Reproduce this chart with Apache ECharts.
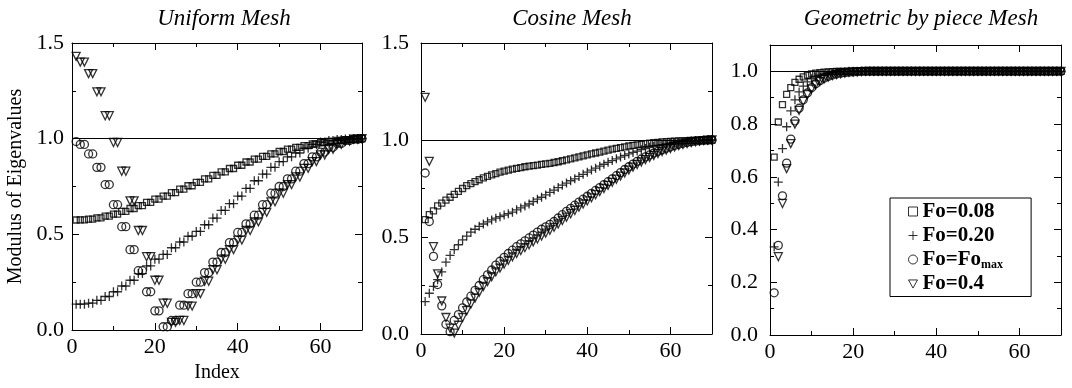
<!DOCTYPE html>
<html><head><meta charset="utf-8">
<script src="https://cdn.jsdelivr.net/npm/echarts@6/dist/echarts.min.js"></script>
<style>html,body{margin:0;padding:0;background:#fff}#c{width:1072px;height:388px}</style>
</head><body><div id="c"></div>
<script>
// ---------- DATA ----------
const panelTitles = ['Uniform Mesh', 'Cosine Mesh', 'Geometric by piece Mesh'];
const seriesNames = ['Fo=0.08', 'Fo=0.20', 'Fo=Fo_max', 'Fo=0.4'];
const xLabelTicks = [0, 20, 40, 60];
const xMinorTicks = [10, 30, 50];
const yTicksUC = [0, 0.5, 1.0, 1.5];
const yMinorUC = [0.25, 0.75, 1.25];
const yTicksGeo = [0, 0.2, 0.4, 0.6, 0.8, 1.0];
const yMinorGeo = [0.1, 0.3, 0.5, 0.7, 0.9];

// Uniform mesh (index 1..70)
const uniSq = [0.575, 0.576,0.576, 0.58,0.58, 0.586,0.586, 0.595,0.595, 0.606,0.606, 0.62,0.62, 0.635,0.635, 0.65,0.65, 0.667,0.667, 0.684,0.684, 0.70,0.70, 0.718,0.718, 0.736,0.736, 0.754,0.754, 0.772,0.772, 0.79,0.79, 0.808,0.808, 0.826,0.826, 0.844,0.844, 0.861,0.861, 0.878,0.878, 0.893,0.893, 0.907,0.907, 0.92,0.92, 0.933,0.933, 0.945,0.945, 0.955,0.955, 0.964,0.964, 0.972,0.972, 0.98,0.98, 0.986,0.986, 0.991,0.991, 0.995,0.995, 0.998,0.998, 1.0];
const uniPlus = [0.135, 0.135,0.135, 0.14,0.14, 0.155,0.155, 0.175,0.175, 0.20,0.20, 0.23,0.23, 0.26,0.26, 0.295,0.295, 0.335,0.335, 0.37,0.37, 0.395,0.395, 0.43,0.43, 0.46,0.46, 0.49,0.49, 0.515,0.515, 0.55,0.55, 0.585,0.585, 0.625,0.625, 0.66,0.66, 0.70,0.70, 0.74,0.74, 0.78,0.78, 0.815,0.815, 0.85,0.85, 0.88,0.88, 0.905,0.905, 0.925,0.925, 0.95,0.95, 0.97,0.97, 0.982,0.982, 0.99,0.99, 0.995,0.995, 0.998,0.998, 1.0,1.0, 1.0];
const uniCirc = [0.985, 0.97,0.97, 0.92,0.92, 0.85,0.85, 0.76,0.76, 0.655,0.655, 0.54,0.54, 0.42,0.42, 0.31,0.31, 0.20,0.20, 0.10,0.10, 0.017,0.017, 0.05,0.05, 0.13,0.13, 0.19,0.19, 0.25,0.25, 0.30,0.30, 0.355,0.355, 0.405,0.405, 0.457,0.457, 0.51,0.51, 0.555,0.555, 0.60,0.60, 0.655,0.655, 0.715,0.715, 0.75,0.75, 0.79,0.79, 0.83,0.83, 0.87,0.87, 0.905,0.905, 0.93,0.93, 0.955,0.955, 0.975,0.975, 0.99,0.99, 0.997,0.997, 1.0];
const uniTri = [1.43, 1.40,1.40, 1.34,1.34, 1.245,1.245, 1.12,1.12, 0.98,0.98, 0.83,0.83, 0.675,0.675, 0.52,0.52, 0.383,0.383, 0.26,0.26, 0.14,0.14, 0.04,0.04, 0.05,0.05, 0.125,0.125, 0.19,0.19, 0.255,0.255, 0.315,0.315, 0.37,0.37, 0.42,0.42, 0.47,0.47, 0.52,0.52, 0.565,0.565, 0.615,0.615, 0.67,0.67, 0.715,0.715, 0.76,0.76, 0.80,0.80, 0.845,0.845, 0.88,0.88, 0.915,0.915, 0.945,0.945, 0.97,0.97, 0.988,0.988, 0.997,0.997, 1.0];

// Cosine mesh (index 1..70)
const cosSq = [0.59, 0.615, 0.635, 0.66, 0.675, 0.69, 0.705, 0.72, 0.735, 0.75, 0.765, 0.775, 0.785, 0.795, 0.805, 0.813, 0.82, 0.827, 0.834, 0.84, 0.845, 0.85, 0.854, 0.858, 0.862, 0.865, 0.868, 0.871, 0.874, 0.877, 0.88, 0.884, 0.888, 0.893, 0.898, 0.903, 0.908, 0.913, 0.918, 0.923, 0.928, 0.933, 0.938, 0.943, 0.948, 0.953, 0.957, 0.961, 0.965, 0.969, 0.972, 0.975, 0.978, 0.981, 0.984, 0.986, 0.988, 0.99, 0.992, 0.993, 0.994, 0.995, 0.996, 0.997, 0.998, 0.998, 0.999, 0.999, 1.0, 1.0];
const cosPlus = [0.167, 0.21, 0.245, 0.28, 0.32, 0.37, 0.405, 0.435, 0.46, 0.485, 0.505, 0.525, 0.54, 0.555, 0.567, 0.578, 0.588, 0.597, 0.605, 0.613, 0.62, 0.628, 0.64, 0.65, 0.66, 0.67, 0.683, 0.695, 0.705, 0.717, 0.73, 0.742, 0.755, 0.767, 0.778, 0.79, 0.80, 0.812, 0.823, 0.834, 0.845, 0.855, 0.865, 0.875, 0.885, 0.894, 0.903, 0.912, 0.92, 0.928, 0.936, 0.943, 0.95, 0.956, 0.962, 0.967, 0.972, 0.976, 0.98, 0.984, 0.987, 0.99, 0.992, 0.994, 0.996, 0.997, 0.998, 0.999, 1.0, 1.0];
const cosCirc = [0.83, 0.58, 0.40, 0.255, 0.145, 0.05, 0.012, 0.07, 0.10, 0.135, 0.165, 0.195, 0.225, 0.25, 0.28, 0.305, 0.33, 0.355, 0.375, 0.395, 0.415, 0.432, 0.45, 0.465, 0.48, 0.495, 0.51, 0.525, 0.54, 0.552, 0.565, 0.58, 0.598, 0.615, 0.632, 0.648, 0.664, 0.68, 0.695, 0.71, 0.725, 0.74, 0.755, 0.77, 0.785, 0.80, 0.816, 0.832, 0.848, 0.862, 0.876, 0.89, 0.902, 0.913, 0.923, 0.933, 0.942, 0.95, 0.958, 0.965, 0.972, 0.978, 0.983, 0.987, 0.991, 0.994, 0.996, 0.998, 0.999, 1.0];
const cosTri = [1.22, 0.89, 0.45, 0.31, 0.17, 0.085, 0.03, 0.005, 0.045, 0.085, 0.12, 0.155, 0.185, 0.215, 0.245, 0.27, 0.295, 0.32, 0.34, 0.36, 0.38, 0.398, 0.415, 0.43, 0.445, 0.46, 0.475, 0.49, 0.505, 0.52, 0.535, 0.55, 0.567, 0.585, 0.602, 0.62, 0.637, 0.654, 0.67, 0.686, 0.702, 0.718, 0.734, 0.75, 0.766, 0.782, 0.798, 0.814, 0.83, 0.845, 0.86, 0.874, 0.887, 0.899, 0.91, 0.92, 0.93, 0.94, 0.948, 0.956, 0.964, 0.971, 0.977, 0.982, 0.987, 0.991, 0.994, 0.997, 0.999, 1.0];

// Geometric by piece mesh (index 1..70)
const geoSq = [0.675, 0.808, 0.874, 0.913, 0.938, 0.958, 0.97, 0.979, 0.985, 0.99, 0.993, 0.995, 0.997, 0.998, 0.999, 1.0, 1.0, 1.0, 1.0, 1.0, 1.0, 1.0, 1.0, 1.0, 1.0, 1.0, 1.0, 1.0, 1.0, 1.0, 1.0, 1.0, 1.0, 1.0, 1.0, 1.0, 1.0, 1.0, 1.0, 1.0, 1.0, 1.0, 1.0, 1.0, 1.0, 1.0, 1.0, 1.0, 1.0, 1.0, 1.0, 1.0, 1.0, 1.0, 1.0, 1.0, 1.0, 1.0, 1.0, 1.0, 1.0, 1.0, 1.0, 1.0, 1.0, 1.0, 1.0, 1.0, 1.0, 1.0];
const geoPlus = [0.334, 0.58, 0.707, 0.79, 0.85, 0.892, 0.922, 0.944, 0.96, 0.972, 0.98, 0.986, 0.99, 0.993, 0.995, 0.997, 0.998, 0.999, 1.0, 1.0, 1.0, 1.0, 1.0, 1.0, 1.0, 1.0, 1.0, 1.0, 1.0, 1.0, 1.0, 1.0, 1.0, 1.0, 1.0, 1.0, 1.0, 1.0, 1.0, 1.0, 1.0, 1.0, 1.0, 1.0, 1.0, 1.0, 1.0, 1.0, 1.0, 1.0, 1.0, 1.0, 1.0, 1.0, 1.0, 1.0, 1.0, 1.0, 1.0, 1.0, 1.0, 1.0, 1.0, 1.0, 1.0, 1.0, 1.0, 1.0, 1.0, 1.0];
const geoCirc = [0.16, 0.34, 0.528, 0.652, 0.743, 0.812, 0.86, 0.892, 0.918, 0.938, 0.953, 0.965, 0.974, 0.981, 0.986, 0.99, 0.993, 0.995, 0.997, 0.998, 0.999, 1.0, 1.0, 1.0, 1.0, 1.0, 1.0, 1.0, 1.0, 1.0, 1.0, 1.0, 1.0, 1.0, 1.0, 1.0, 1.0, 1.0, 1.0, 1.0, 1.0, 1.0, 1.0, 1.0, 1.0, 1.0, 1.0, 1.0, 1.0, 1.0, 1.0, 1.0, 1.0, 1.0, 1.0, 1.0, 1.0, 1.0, 1.0, 1.0, 1.0, 1.0, 1.0, 1.0, 1.0, 1.0, 1.0, 1.0, 1.0, 1.0];
const geoTri = [null, 0.297, 0.499, 0.631, 0.726, 0.80, 0.852, 0.886, 0.912, 0.933, 0.949, 0.961, 0.971, 0.978, 0.984, 0.988, 0.991, 0.994, 0.996, 0.997, 0.998, 0.999, 1.0, 1.0, 1.0, 1.0, 1.0, 1.0, 1.0, 1.0, 1.0, 1.0, 1.0, 1.0, 1.0, 1.0, 1.0, 1.0, 1.0, 1.0, 1.0, 1.0, 1.0, 1.0, 1.0, 1.0, 1.0, 1.0, 1.0, 1.0, 1.0, 1.0, 1.0, 1.0, 1.0, 1.0, 1.0, 1.0, 1.0, 1.0, 1.0, 1.0, 1.0, 1.0, 1.0, 1.0, 1.0, 1.0, 1.0, 1.0];

// ---------- CHART ----------
const SERIF = 'Liberation Serif';
const panels = [
  { title: panelTitles[0], cx: 219, grid: {left: 72, top: 43, width: 290, height: 290}, ymax: 1.5, yMaj: yTicksUC, yMin: yMinorUC, margin: 8, data: [uniSq, uniPlus, uniCirc, uniTri], yName: 'Modulus of Eigenvalues', xName: 'Index' },
  { title: panelTitles[1], cx: 567, grid: {left: 421, top: 43, width: 291, height: 291}, ymax: 1.5, yMaj: yTicksUC, yMin: yMinorUC, margin: 12, data: [cosSq, cosPlus, cosCirc, cosTri] },
  { title: panelTitles[2], cx: 916, grid: {left: 770, top: 45, width: 291, height: 290}, ymax: 1.1, yMaj: yTicksGeo, yMin: yMinorGeo, margin: 12, data: [geoSq, geoPlus, geoCirc, geoTri] }
];

const symbols = [
  { symbol: 'rect', size: 6 },
  { symbol: 'path://M0,5L10,5M5,0L5,10', size: 9 },
  { symbol: 'circle', size: 8 },
  { symbol: 'triangle', size: 8, rotate: 180 }
];
const markStyle = { color: 'rgba(0,0,0,0)', borderColor: '#000', borderWidth: 1.3 };
const lineStyle = { color: '#000', width: 1 };
const labelStyle = { fontFamily: SERIF, fontSize: 22, color: '#000' };

const grids = [], xAxes = [], yAxes = [], series = [], titles = [];
panels.forEach((p, gi) => {
  grids.push(Object.assign({}, p.grid));
  titles.push({ text: p.title, left: p.cx, top: 2, textAlign: 'center',
    textStyle: { fontFamily: SERIF, fontStyle: 'italic', fontWeight: 'normal', fontSize: 23, color: '#000' } });
  const xBase = xAxes.length, yBase = yAxes.length;
  [['bottom', true, xLabelTicks, 7], ['bottom', false, xMinorTicks, 4], ['top', true, xLabelTicks, 7], ['top', false, xMinorTicks, 4]].forEach(([pos, line, ticks, len], k) => {
    const ax = { type: 'value', gridIndex: gi, position: pos, min: 0, max: 70,
      axisLine: { show: line, onZero: false, lineStyle },
      axisTick: { show: true, inside: true, length: len, customValues: ticks, lineStyle },
      axisLabel: { show: k === 0, customValues: ticks, margin: 6, ...labelStyle },
      splitLine: { show: false } };
    if (k === 0 && p.xName) {
      Object.assign(ax, { name: p.xName, nameLocation: 'middle', nameGap: 33,
        nameTextStyle: { fontFamily: SERIF, fontSize: 20, color: '#000' } });
    }
    xAxes.push(ax);
  });
  [['left', true, p.yMaj, 7], ['left', false, p.yMin, 4], ['right', true, p.yMaj, 7], ['right', false, p.yMin, 4]].forEach(([pos, line, ticks, len], k) => {
    const ax = { type: 'value', gridIndex: gi, position: pos, min: 0, max: p.ymax,
      axisLine: { show: line, onZero: false, lineStyle },
      axisTick: { show: true, inside: true, length: len, customValues: ticks, lineStyle },
      axisLabel: { show: k === 0, customValues: ticks, margin: p.margin, formatter: v => v.toFixed(1), ...labelStyle },
      splitLine: { show: false } };
    if (k === 0 && p.yName) {
      Object.assign(ax, { name: p.yName, nameLocation: 'middle', nameGap: 46,
        nameTextStyle: { fontFamily: SERIF, fontSize: 20, color: '#000' } });
    }
    yAxes.push(ax);
  });
  p.data.forEach((vals, si) => {
    const s = {
      type: 'scatter', name: seriesNames[si], xAxisIndex: xBase, yAxisIndex: yBase,
      symbol: symbols[si].symbol, symbolSize: symbols[si].size, symbolRotate: symbols[si].rotate || 0,
      itemStyle: markStyle, clip: true, silent: true,
      data: vals.map((v, i) => [i + 1, v])
    };
    if (si === 0) {
      s.markLine = { silent: true, symbol: 'none', label: { show: false },
        lineStyle: { color: '#000', width: 1, type: 'solid' }, data: [{ yAxis: 1.0 }] };
    }
    series.push(s);
  });
});

const legendIcons = ['rect', 'path://M0,5L10,5M5,0L5,10', 'circle', 'path://M0,0L10,0L5,9Z'];
const option = {
  animation: false,
  backgroundColor: '#fff',
  title: titles,
  grid: grids,
  xAxis: xAxes,
  yAxis: yAxes,
  legend: {
    orient: 'vertical', left: 890, top: 198,
    borderColor: '#000', borderWidth: 1, borderRadius: 0,
    padding: [3, 28, 2, 18], itemGap: 3,
    itemWidth: 9, itemHeight: 9, selectedMode: false,
    data: seriesNames.map((n, i) => ({ name: n, icon: legendIcons[i],
      itemStyle: { color: 'rgba(0,0,0,0)', borderColor: '#000', borderWidth: 1 } })),
    formatter: n => n === 'Fo=Fo_max' ? '{b|Fo=Fo}{s|max}' : '{b|' + n + '}',
    textStyle: { rich: {
      b: { fontFamily: SERIF, fontWeight: 'bold', fontSize: 21, color: '#000', lineHeight: 22 },
      s: { fontFamily: SERIF, fontWeight: 'bold', fontSize: 12, color: '#000', verticalAlign: 'bottom', lineHeight: 22 }
    } }
  },
  series
};
const chart = echarts.init(document.getElementById('c'), null, { renderer: 'canvas' });
chart.setOption(option);
</script></body></html>
